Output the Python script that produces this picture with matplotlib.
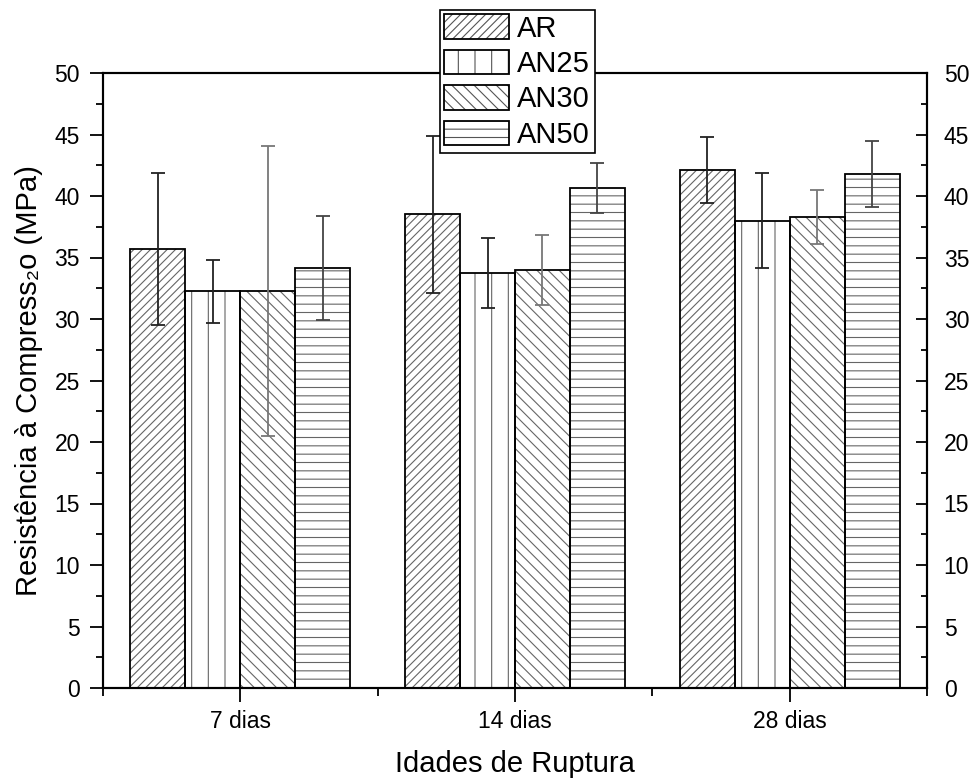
"""compressive strength bar chart with hatched bars"""

from matplotlib import pyplot as plt
from matplotlib.patches import Patch
from matplotlib.ticker import MultipleLocator, FixedLocator
import numpy as np

plt.rcParams['font.family'] = ['Liberation Sans', 'DejaVu Sans']
plt.rcParams['hatch.linewidth'] = 0.8

idades = ['7 dias', '14 dias', '28 dias']
series = ['AR', 'AN25', 'AN30', 'AN50']

ar = [35.7, 38.5, 42.1]
ar_err = [6.2, 6.35, 2.7]
an25 = [32.25, 33.75, 38.0]
an25_err = [2.55, 2.85, 3.85]
an30 = [32.25, 34.0, 38.3]
an30_err = [11.8, 2.85, 2.2]
an50 = [34.15, 40.65, 41.8]
an50_err = [4.2, 2.0, 2.7]

values = [ar, an25, an30, an50]
errors = [ar_err, an25_err, an30_err, an50_err]
hatches = ['////', '|', '\\\\\\', '--']
err_colors = ['#222222', '#222222', '#777777', '#444444']

f = plt.figure(figsize=(9.72, 7.81), dpi=100)
ax = f.add_axes([103/972, 1-688/781, (927-103)/972, (688-73)/781])

x = np.arange(1, len(idades) + 1)
w = 0.2
handles = []
for i, (vals, errs) in enumerate(zip(values, errors)):
    pos = x + (i - 1.5) * w
    ax.bar(pos, vals, w, color='white', edgecolor='#666666', hatch=hatches[i], linewidth=0, zorder=2)
    ax.bar(pos, vals, w, fill=False, edgecolor='black', linewidth=1.3, zorder=3)
    ax.errorbar(pos, vals, yerr=errs, fmt='none', ecolor=err_colors[i],
                elinewidth=1.3, capsize=5, capthick=1.3, zorder=4)
    handles.append((Patch(facecolor='white', edgecolor='#555555', hatch=hatches[i], linewidth=0),
                    Patch(facecolor='none', edgecolor='black', linewidth=1.3)))

ax.set_xlim(0.5, 3.5)
ax.set_ylim(0, 50)
ax.set_xticks(x)
ax.set_xticklabels(idades, fontsize=16.5)
ax.xaxis.set_minor_locator(FixedLocator([0.5, 1.5, 2.5, 3.5]))
ax.yaxis.set_major_locator(MultipleLocator(5))
ax.yaxis.set_minor_locator(MultipleLocator(2.5))
ax.tick_params(axis='y', which='major', direction='out', length=9.5, width=1.3, labelsize=16.5, pad=7)
ax.tick_params(axis='y', which='minor', direction='out', length=5, width=1.3)
ax.tick_params(axis='x', which='major', direction='out', length=10, width=1.3, pad=6)
ax.tick_params(axis='x', which='minor', direction='out', length=6, width=1.3)
for s in ax.spines.values():
    s.set_linewidth(1.5)

ax2 = ax.twinx()
ax2.set_ylim(0, 50)
ax2.yaxis.set_major_locator(MultipleLocator(5))
ax2.yaxis.set_minor_locator(MultipleLocator(2.5))
ax2.tick_params(axis='y', which='major', direction='in', length=8, width=1.3, labelsize=16.5, pad=12)
ax2.tick_params(axis='y', which='minor', direction='in', length=4, width=1.3)
for s in ax2.spines.values():
    s.set_linewidth(1.5)

ax.set_xlabel('Idades de Ruptura', fontsize=21, labelpad=12)
ax.set_ylabel('Resistência à Compress₂o (MPa)', fontsize=21, labelpad=8)

leg = f.legend(handles, series, loc='upper left', bbox_to_anchor=(440/972, 1-10/781),
               bbox_transform=f.transFigure, fontsize=21, fancybox=False, framealpha=1,
               edgecolor='black', borderpad=0.15, labelspacing=0.25, handlelength=2.2,
               handleheight=0.9, handletextpad=0.3, borderaxespad=0)
leg.get_frame().set_linewidth(1.2)
leg.set_zorder(10)

plt.savefig('out.png', dpi=100)
